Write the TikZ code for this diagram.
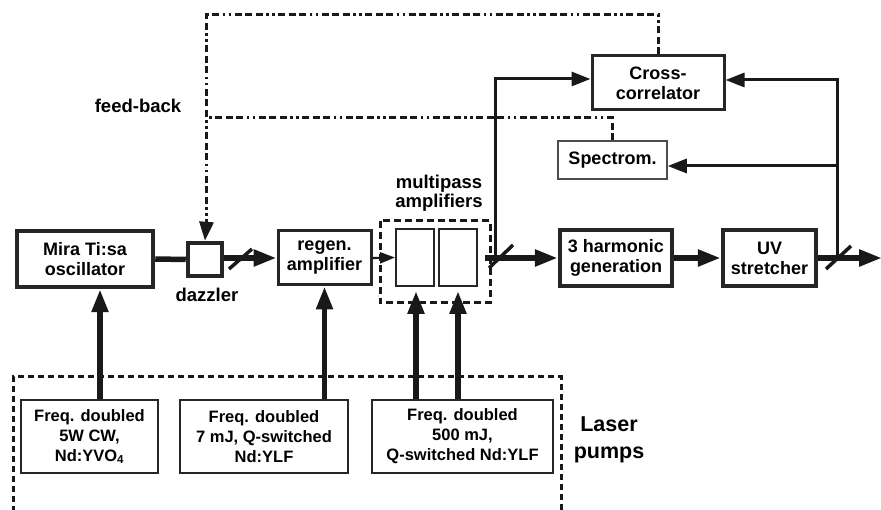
\documentclass[tikz,border=0pt]{standalone}
\usepackage{fontspec}
\setmainfont{Liberation Sans}
\usetikzlibrary{arrows.meta,calc}
\begin{document}
\begin{tikzpicture}[x=1pt,y=-1pt,
  box/.style={draw=black!85, fill=white, align=center, inner sep=0pt,
    font=\fontsize{18}{20}\selectfont\bfseries},
  thickbox/.style={box, line width=4.5pt},
  medbox/.style={box, line width=3pt},
  thinbox/.style={box, line width=2pt},
  pumpbox/.style={thinbox, minimum width=137pt, minimum height=73pt,
    font=\fontsize{16.5}{20}\selectfont\bfseries},
  lbl/.style={align=center, font=\fontsize{18.5}{19}\selectfont\bfseries},
  beam/.style={line width=5.5pt, black!90},
  bigarrow/.style={beam, -{Triangle[length=23pt,width=16pt]}},
  pumparrow/.style={beam, -{Triangle[length=23pt,width=16pt]}},
  sig/.style={line width=3pt, black!90},
  sigarrow/.style={sig, -{Triangle[length=19pt,width=14pt]}},
  smallarrow/.style={line width=2.2pt, black!90, -{Triangle[length=15pt,width=11pt]}},
  slash/.style={line width=3.5pt, black!90},
  fb/.style={line width=3pt, black!90, dash pattern=on 7pt off 3.5pt on 7pt off 3.5pt on 7pt off 3.5pt on 2.5pt off 3.5pt on 2.5pt off 3.5pt},
  pumpframe/.style={line width=3pt, black!90, dash pattern=on 6pt off 4pt},
  mpframe/.style={line width=3pt, black!90, dash pattern=on 7pt off 4pt}
]
\useasboundingbox (0,0) rectangle (881,510);

% main boxes
\node[thickbox, minimum width=136pt, minimum height=56pt] (mira) at (85,259) {Mira Ti:sa\\oscillator};
\node[thickbox, minimum width=34pt, minimum height=33pt] (dazz) at (205,259.5) {};
\node[medbox, minimum width=93pt, minimum height=54pt] (regen) at (324.5,258) {regen.\\amplifier};
\node[thinbox, minimum width=38pt, minimum height=57pt] (amp1) at (415,257.5) {};
\node[thinbox, minimum width=38pt, minimum height=57pt] (amp2) at (458,257.5) {};
\node[thickbox, minimum width=112pt, minimum height=56pt] (harm) at (616,258) {3 harmonic\\generation};
\node[thickbox, minimum width=93pt, minimum height=56pt] (uv) at (769.5,258) {UV\\stretcher};
\node[medbox, minimum width=132pt, minimum height=54pt] (cross) at (658,83) {Cross-\\correlator};
\node[thinbox, draw=black!70, line width=1.5pt, minimum width=109pt, minimum height=38pt] (spec) at (612.5,160) {Spectrom.};

% pump boxes
\node[pumpbox] (p1) at (89.5,436.5) {Freq. doubled\\5W CW,\\Nd:YVO\textsubscript{4}};
\node[pumpbox, minimum width=168pt] (p2) at (264,436.5) {Freq. doubled\\7 mJ, Q-switched\\Nd:YLF};
\node[pumpbox, minimum width=181pt] (p3) at (462.5,436.5) {Freq. doubled\\500 mJ,\\Q-switched Nd:YLF};

% labels
\node[lbl] (ldazz) at (207,295) {dazzler};
\node[lbl] (lmp) at (439,193) {multipass\\amplifiers};
\node[lbl] (lfb) at (138,106) {feed-back};
\node[lbl, font=\fontsize{21.5}{27}\selectfont\bfseries] (llp) at (609,440) {Laser\\pumps};

% frames
\draw[mpframe] (380,221) rectangle (490,303);
\draw[pumpframe] (13,512) -- (13,377) -- (561,377) -- (561,512);

% coordinates
\coordinate (mpout) at (485,258);
\coordinate (brA) at (495,258);
\coordinate (brAtop) at (495,79);
\coordinate (brB) at (837,258);
\coordinate (brBtop) at (837,80);
\coordinate (brBmid) at (837,166);
\coordinate (exit) at (882,258);
\coordinate (fbtop) at (206,15);
\coordinate (fbmid) at (206,118);

% beam
\draw[beam] (mira.east) -- (dazz.west);
\draw[bigarrow] (dazz.east |- regen.west) -- (regen.west);
\draw[smallarrow] (regen.east) -- (amp1.west);
\draw[bigarrow] (mpout) -- (harm.west);
\draw[bigarrow] (harm.east) -- (uv.west);
\draw[bigarrow] (uv.east) -- (exit);

% slashes
\draw[slash] (229,269) -- (252,249);
\draw[slash] (489,268) -- (513,245);
\draw[slash] (826,269) -- (851,246);

% diagnostics
\draw[sigarrow] (brA) -- (brAtop) -- (cross.west |- brAtop);
\draw[sigarrow] (brB) -- (brBtop) -- (cross.east |- brBtop);
\draw[sigarrow] (brBmid) -- (spec.east |- brBmid);

% feedback
\draw[fb] (cross.north) -- (cross.north |- fbtop) -- (fbtop) -- (206,235);
\draw[fb, -{Triangle[length=19pt,width=14pt]}] (206,228) -- (dazz.north);
\draw[fb] (spec.north) -- (spec.north |- fbmid) -- (fbmid);

% pumps
\draw[pumparrow] (p1.north -| mira.south) ++(15,0) -- ($(mira.south)+(15,0)$);
\draw[pumparrow] (p2.north -| regen.south) -- (regen.south);
\draw[pumparrow] (p3.north -| amp1.south) ++(1,0) -- ($(amp1.south)+(1,4)$);
\draw[pumparrow] (p3.north -| amp2.south) -- ($(amp2.south)+(0,4)$);
\end{tikzpicture}
\end{document}
